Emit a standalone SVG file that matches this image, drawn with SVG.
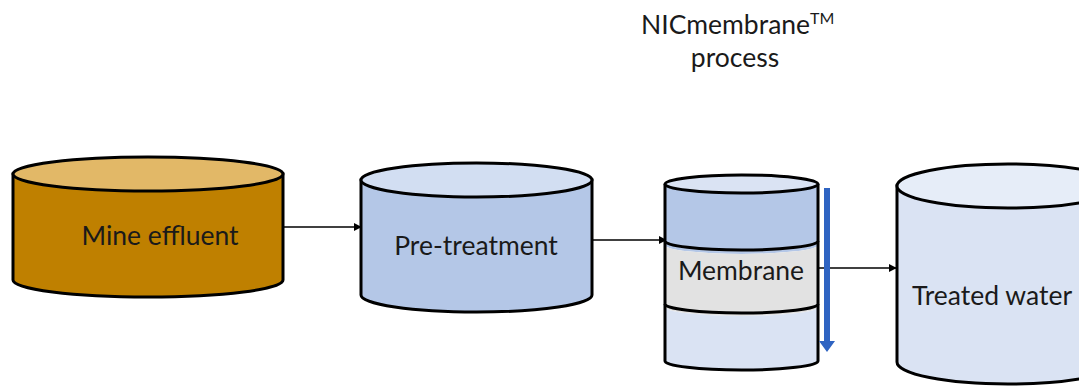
<svg xmlns="http://www.w3.org/2000/svg" width="1079" height="386" viewBox="0 0 1079 386">
<defs>
<style>
.o{stroke:#000;stroke-width:3;}
.t{font-family:Lato,"Open Sans",sans-serif;font-size:26.5px;fill:#1a1a1a;text-anchor:middle;}
.c{stroke:#000;stroke-width:1.5;fill:none;marker-end:url(#ah);}
</style>
<marker id="ah" viewBox="0 0 10 10" refX="9" refY="5" markerWidth="8" markerHeight="8" orient="auto" markerUnits="userSpaceOnUse">
<path d="M0,0 L10,5 L0,10 z" fill="#000"/>
</marker>
</defs>
<rect width="1079" height="386" fill="#fff"/>
<g id="title">
<text class="t" x="641" y="34" style="text-anchor:start">NICmembrane<tspan font-size="16" dy="-10">TM</tspan></text>
<text class="t" x="735" y="67">process</text>
</g>
<g id="connectors">
<line class="c" x1="283" y1="227" x2="361" y2="227"/>
<line class="c" x1="592" y1="240" x2="666" y2="240"/>
<line class="c" x1="818" y1="268" x2="896" y2="268"/>
</g>
<g id="mine-effluent">
<path class="o" d="M13,174 L13,280 A135,17 0 0 0 283,280 L283,174 Z" fill="#BF8000"/>
<ellipse class="o" cx="148" cy="174" rx="135" ry="17" fill="#E2B867"/>
<text class="t" x="160" y="245">Mine effluent</text>
</g>
<g id="pre-treatment">
<path class="o" d="M361,180 L361,295 A115.5,17 0 0 0 592,295 L592,180 Z" fill="#B4C7E7"/>
<ellipse class="o" cx="476.5" cy="180" rx="115.5" ry="17" fill="#D2DEF2"/>
<text class="t" x="476" y="255">Pre-treatment</text>
</g>
<g id="membrane">
<path d="M665,184 L665,245 A76.5,9 0 0 0 818,245 L818,184 Z" fill="#B4C7E7"/>
<path d="M665,245 A76.5,9 0 0 0 818,245 L818,307 A76.5,9 0 0 1 665,307 Z" fill="#E2E2E2"/>
<path d="M665,307 A76.5,9 0 0 0 818,307 L818,361 A76.5,9 0 0 1 665,361 Z" fill="#DAE3F3"/>
<path class="o" fill="none" d="M665,184 L665,361 A76.5,9 0 0 0 818,361 L818,184"/>
<path class="o" fill="none" d="M665,241 A76.5,9 0 0 0 818,241"/>
<path class="o" fill="none" d="M665,304 A76.5,9 0 0 0 818,304"/>
<ellipse class="o" cx="741.5" cy="184" rx="76.5" ry="9" fill="#DAE3F3"/>
<text class="t" x="741" y="280">Membrane</text>
<path d="M824,188 L830,188 L830,341 L835,341 L827,352 L819,341 L824,341 Z" fill="#2F64C2"/>
</g>
<g id="treated-water">
<path class="o" d="M897,186 L897,362 A111,22 0 0 0 1119,362 L1119,186 Z" fill="#DAE3F3"/>
<ellipse class="o" cx="1008" cy="186" rx="111" ry="22" fill="#E6EDF8"/>
<text class="t" x="992" y="305">Treated water</text>
</g>
</svg>
